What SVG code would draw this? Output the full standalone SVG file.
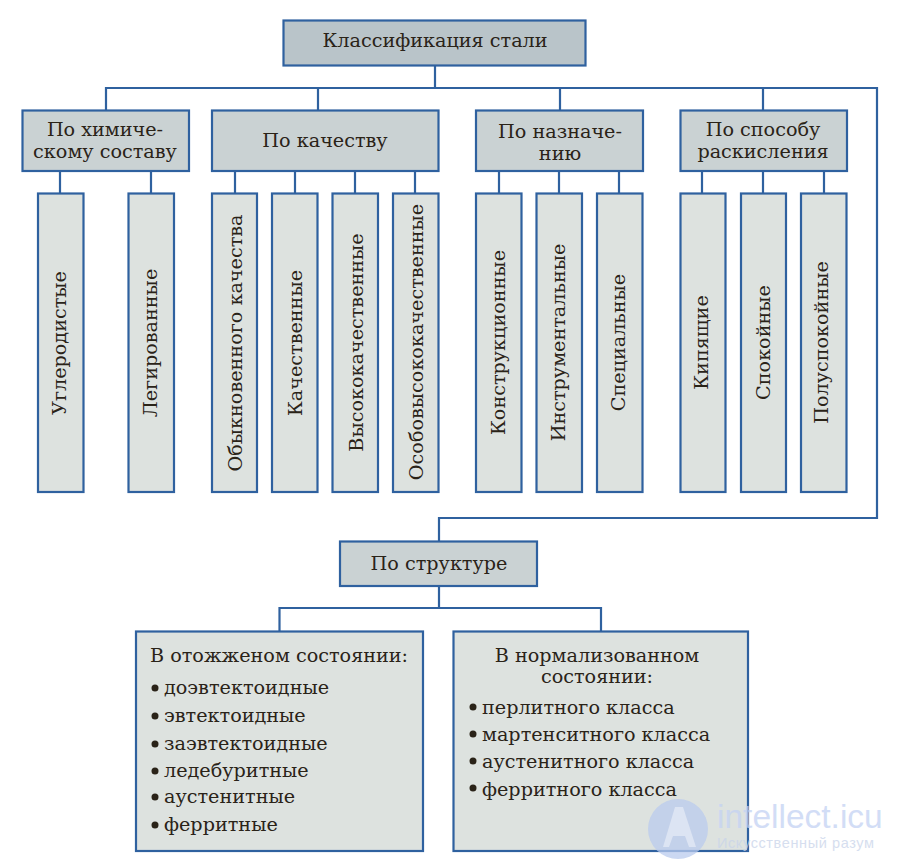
<svg xmlns="http://www.w3.org/2000/svg" width="899" height="868" viewBox="0 0 899 868">
<style>
rect{stroke:#2f619f;stroke-width:2.2}
.a{fill:#b9c4c9}.b{fill:#cad2d3}.c{fill:#dde2df}
text{font-family:"DejaVu Serif","Liberation Serif",serif;font-size:19.2px;fill:#2a2318}
.m{text-anchor:middle}
.v{text-anchor:middle}
#connectors path{fill:none;stroke:#2f619f;stroke-width:2.2}
</style>
<g id="connectors">
<path d="M435 65V88M106 110V88H877V518H439V541M318 88V110M560 88V110M763 88V110"/>
<path d="M60 171V193M151 171V193M235 171V193M295 171V193M355 171V193M415 171V193M499 171V193M559 171V193M619 171V193M702 171V193M763 171V193M824 171V193"/>
<path d="M439 586V608M279.500 631V608H601V631"/>
</g>
<g id="n-root"><rect class="a" x="283.500" y="20.500" width="302" height="45"/><text class="m" x="435" y="47">Классификация стали</text></g>
<g id="n-chem"><rect class="b" x="22.500" y="110.500" width="166.500" height="60.500"/><text class="m" x="105" y="135.500">По химиче-</text><text class="m" x="105" y="158">скому составу</text></g>
<g id="n-qual"><rect class="b" x="212" y="110.500" width="226.500" height="60.500"/><text class="m" x="325" y="147">По качеству</text></g>
<g id="n-purp"><rect class="b" x="476" y="110.500" width="167" height="60.500"/><text class="m" x="560" y="138">По назначе-</text><text class="m" x="560" y="160">нию</text></g>
<g id="n-deox"><rect class="b" x="680.500" y="110.500" width="166.500" height="60.500"/><text class="m" x="763" y="136">По способу</text><text class="m" x="763" y="158">раскисления</text></g>
<g id="n-1"><rect class="c" x="38" y="193.500" width="45.500" height="298.500"/><text class="v" transform="translate(66 343) rotate(-90)">Углеродистые</text></g>
<g id="n-2"><rect class="c" x="128.500" y="193.500" width="45.500" height="298.500"/><text class="v" transform="translate(157 343) rotate(-90)">Легированные</text></g>
<g id="n-3"><rect class="c" x="212" y="193.500" width="45" height="298.500"/><text class="v" transform="translate(241.500 343) rotate(-90)">Обыкновенного качества</text></g>
<g id="n-4"><rect class="c" x="272" y="193.500" width="45.500" height="298.500"/><text class="v" transform="translate(301.500 343) rotate(-90)">Качественные</text></g>
<g id="n-5"><rect class="c" x="332.500" y="193.500" width="45.500" height="298.500"/><text class="v" transform="translate(363 342.500) rotate(-90)">Высококачественные</text></g>
<g id="n-6"><rect class="c" x="393" y="193.500" width="45.500" height="298.500"/><text class="v" transform="translate(423 342) rotate(-90)">Особовысококачественные</text></g>
<g id="n-7"><rect class="c" x="476" y="193.500" width="45.500" height="298.500"/><text class="v" transform="translate(505 342.500) rotate(-90)">Конструкционные</text></g>
<g id="n-8"><rect class="c" x="536.500" y="193.500" width="45.500" height="298.500"/><text class="v" transform="translate(565 342.500) rotate(-90)">Инструментальные</text></g>
<g id="n-9"><rect class="c" x="597" y="193.500" width="45.500" height="298.500"/><text class="v" transform="translate(625 342.500) rotate(-90)">Специальные</text></g>
<g id="n-10"><rect class="c" x="680.500" y="193.500" width="45" height="298.500"/><text class="v" transform="translate(708 342.500) rotate(-90)">Кипящие</text></g>
<g id="n-11"><rect class="c" x="741" y="193.500" width="45" height="298.500"/><text class="v" transform="translate(770 342.500) rotate(-90)">Спокойные</text></g>
<g id="n-12"><rect class="c" x="801" y="193.500" width="45.500" height="298.500"/><text class="v" transform="translate(828 342.500) rotate(-90)">Полуспокойные</text></g>
<g id="n-struct"><rect class="b" x="340" y="541.500" width="197" height="44.500"/><text class="m" x="439" y="570">По структуре</text></g>
<g id="n-ann"><rect class="c" x="136" y="631.500" width="287" height="219.500"/>
<text x="150" y="662">В отожженом состоянии:</text>
<circle cx="155" cy="688" r="3.500" fill="#2a2318"/><text x="164" y="693.500">доэвтектоидные</text>
<circle cx="155" cy="716" r="3.500" fill="#2a2318"/><text x="164" y="721.500">эвтектоидные</text>
<circle cx="155" cy="744" r="3.500" fill="#2a2318"/><text x="164" y="749.500">заэвтектоидные</text>
<circle cx="155" cy="771" r="3.500" fill="#2a2318"/><text x="164" y="776.500">ледебуритные</text>
<circle cx="155" cy="797" r="3.500" fill="#2a2318"/><text x="164" y="802.500">аустенитные</text>
<circle cx="155" cy="825" r="3.500" fill="#2a2318"/><text x="164" y="830.500">ферритные</text></g>
<g id="n-norm"><rect class="c" x="453.500" y="631.500" width="294.500" height="219.500"/>
<text class="m" x="597" y="662">В нормализованном</text><text class="m" x="597" y="683">состоянии:</text>
<circle cx="473" cy="707" r="3.500" fill="#2a2318"/><text x="482" y="714">перлитного класса</text>
<circle cx="473" cy="734" r="3.500" fill="#2a2318"/><text x="482" y="741">мартенситного класса</text>
<circle cx="473" cy="761" r="3.500" fill="#2a2318"/><text x="482" y="768">аустенитного класса</text>
<circle cx="473" cy="788" r="3.500" fill="#2a2318"/><text x="482" y="795.500">ферритного класса</text></g>
<g id="watermark">
<circle cx="678" cy="829" r="30" fill="#b9cbee" opacity=".75"/>
<path d="M663 847L675 807H683L696 847H689L685 836H673L669 847Z" fill="#e4eaf6" opacity=".75"/>
<text x="717" y="828" style="font-family:'Liberation Sans',sans-serif;font-size:33.500px;fill:#c4d2f3" opacity=".75">intellect.icu</text>
<text x="717" y="848" style="font-family:'Liberation Sans',sans-serif;font-size:14.500px;letter-spacing:.6px;fill:#c9d4ea" opacity=".75">Искусственный разум</text>
</g>
</svg>
